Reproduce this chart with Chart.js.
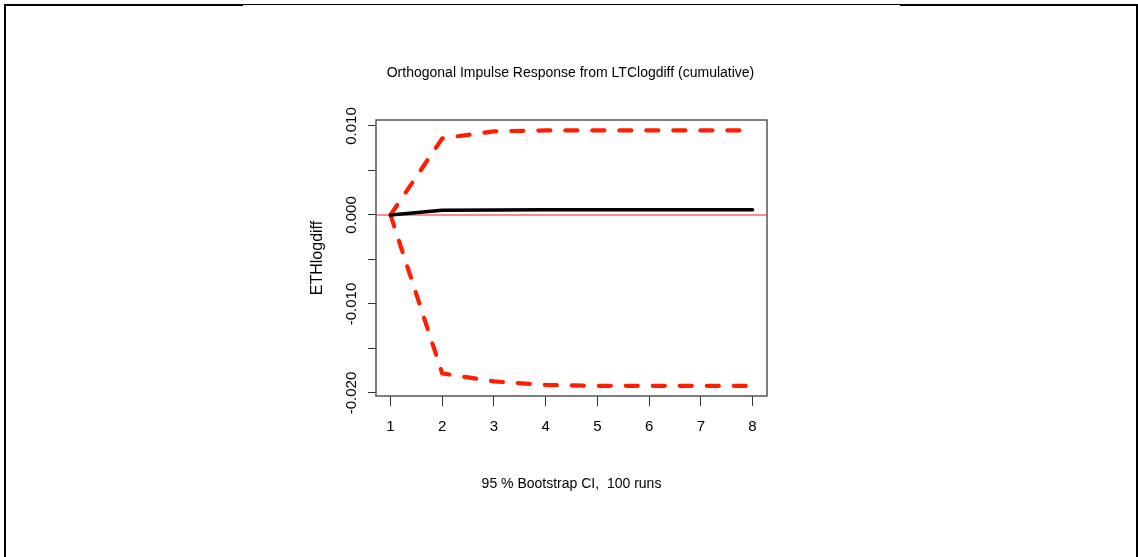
<!DOCTYPE html>
<html>
<head>
<meta charset="utf-8">
<script src="https://cdn.jsdelivr.net/npm/chart.js@4/dist/chart.umd.min.js"></script>
<style>
  html, body { margin: 0; padding: 0; background: #fff; }
  #wrap { position: relative; width: 1138px; height: 557px; overflow: hidden; }
  canvas { position: absolute; left: 0; top: 0; }
  .ln { position: absolute; background: #000; }
</style>
</head>
<body>
<div id="wrap">
  <canvas id="c" width="1138" height="557"></canvas>
  <div class="ln" style="left:4px;top:4px;width:239px;height:2px;"></div>
  <div class="ln" style="left:243px;top:4px;width:657px;height:1px;"></div>
  <div class="ln" style="left:900px;top:4px;width:238px;height:2px;"></div>
  <div class="ln" style="left:4px;top:4px;width:2px;height:553px;"></div>
  <div class="ln" style="left:1136px;top:4px;width:2px;height:553px;"></div>
</div>
<script>
// ---- data ----
const horizons = [1, 2, 3, 4, 5, 6, 7, 8];
const irf   = [0, 0.00052, 0.00057, 0.00058, 0.00058, 0.00058, 0.00058, 0.00058];
const upper = [0, 0.0086, 0.0094, 0.0095, 0.0095, 0.0095, 0.0095, 0.0095];
const lower = [0, -0.0178, -0.0187, -0.0191, -0.0192, -0.0192, -0.0192, -0.0192];
const xTickValues = [1, 2, 3, 4, 5, 6, 7, 8];
const xTickLabels = ['1', '2', '3', '4', '5', '6', '7', '8'];
const yTickValues = [-0.02, -0.015, -0.01, -0.005, 0, 0.005, 0.01];
const yTickLabels = ['-0.020', '', '-0.010', '', '0.000', '', '0.010'];
const chartTitle = 'Orthogonal Impulse Response from LTClogdiff (cumulative)';
const xTitle = '95 % Bootstrap CI,  100 runs';
const yTitle = 'ETHlogdiff';

const FONT = "'Liberation Sans', Arial, sans-serif";
const pts = arr => horizons.map((h, i) => ({ x: h, y: arr[i] }));

const framePlugin = {
  id: 'frame',
  afterDatasetsDraw(chart) {
    const { ctx, chartArea: a, scales: { y } } = chart;
    ctx.save();
    ctx.globalCompositeOperation = 'destination-over';
    ctx.strokeStyle = 'rgba(255,0,0,0.6)';
    ctx.lineWidth = 1.5;
    ctx.setLineDash([]);
    const y0 = y.getPixelForValue(0);
    ctx.beginPath();
    ctx.moveTo(a.left, y0);
    ctx.lineTo(a.right, y0);
    ctx.stroke();
    ctx.restore();
  },
  afterDraw(chart) {
    const { ctx, chartArea: a } = chart;
    ctx.save();
    ctx.strokeStyle = '#555';
    ctx.lineWidth = 1.5;
    ctx.strokeRect(a.left, a.top, a.right - a.left, a.bottom - a.top);
    ctx.fillStyle = '#000';
    ctx.font = '14px ' + FONT;
    ctx.textAlign = 'center';
    ctx.textBaseline = 'middle';
    ctx.fillText(chartTitle, (a.left + a.right) / 2 - 1, 73);
    ctx.restore();
  }
};

new Chart(document.getElementById('c'), {
  type: 'line',
  data: {
    datasets: [
      { data: pts(irf), borderColor: '#000', borderWidth: 3.5, pointRadius: 0, tension: 0, borderCapStyle: 'round', borderJoinStyle: 'round' },
      { data: pts(upper), borderColor: 'rgb(255,30,0)', borderWidth: 4.2, borderDash: [12, 15], borderCapStyle: 'round', pointRadius: 0, tension: 0 },
      { data: pts(lower), borderColor: 'rgb(255,30,0)', borderWidth: 4.2, borderDash: [12, 15], borderCapStyle: 'round', pointRadius: 0, tension: 0 }
    ]
  },
  options: {
    responsive: false,
    animation: false,
    events: [],
    layout: { padding: { left: 300, top: 120, right: 371, bottom: 41 } },
    plugins: { legend: { display: false }, tooltip: { enabled: false }, title: { display: false } },
    scales: {
      x: {
        type: 'linear',
        min: 0.72, max: 8.28,
        afterBuildTicks: s => { s.ticks = xTickValues.map(v => ({ value: v })); },
        afterFit: s => { s.height = 120; },
        grid: { display: true, drawOnChartArea: false, drawTicks: true, tickLength: 10, color: '#333', lineWidth: 1 },
        border: { display: false },
        ticks: {
          autoSkip: false, maxRotation: 0, minRotation: 0, padding: 12,
          color: '#000', font: { family: FONT, size: 15 },
          callback: (v) => { const i = xTickValues.indexOf(v); return i >= 0 ? xTickLabels[i] : ''; }
        },
        title: { display: true, text: xTitle, color: '#000', font: { family: FONT, size: 14 }, padding: { top: 0, bottom: 23 } }
      },
      y: {
        type: 'linear',
        min: -0.02034, max: 0.01067,
        afterBuildTicks: s => { s.ticks = yTickValues.map(v => ({ value: v })); },
        afterFit: s => { s.width = 76; },
        grid: { display: true, drawOnChartArea: false, drawTicks: true, tickLength: 8, color: '#333', lineWidth: 1 },
        border: { display: false },
        ticks: {
          autoSkip: false, minRotation: 90, maxRotation: 90, crossAlign: 'center', padding: -5,
          color: '#000', font: { family: FONT, size: 15 },
          callback: (v) => { const i = yTickValues.findIndex(t => Math.abs(t - v) < 1e-9); return i >= 0 ? yTickLabels[i] : ''; }
        },
        title: { display: true, text: yTitle, color: '#000', font: { family: FONT, size: 16 }, padding: { top: 8, bottom: 0 } }
      }
    }
  },
  plugins: [framePlugin]
});
</script>
</body>
</html>
